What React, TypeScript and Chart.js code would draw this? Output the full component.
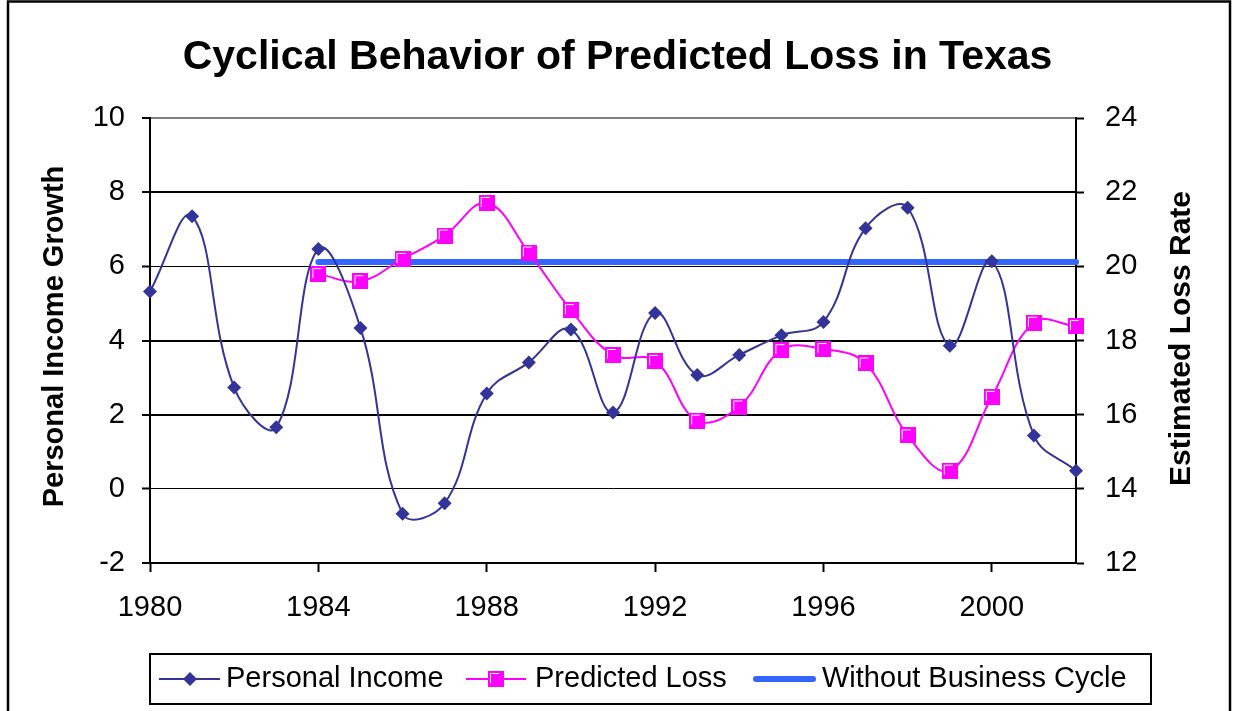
import React, { useEffect, useRef } from "react";
import { Chart, registerables } from "chart.js";

Chart.register(...registerables);

const chartTitle = "Cyclical Behavior of Predicted Loss in Texas";
const leftAxisTitle = "Personal Income Growth";
const rightAxisTitle = "Estimated Loss Rate";

const incomeLabel = "Personal Income";
const lossLabel = "Predicted Loss";
const baselineLabel = "Without Business Cycle";

const incomeYears = [1980, 1981, 1982, 1983, 1984, 1985, 1986, 1987, 1988, 1989, 1990, 1991, 1992, 1993, 1994, 1995, 1996, 1997, 1998, 1999, 2000, 2001, 2002];
const personalIncome = [5.32, 7.35, 2.73, 1.66, 6.47, 4.34, -0.67, -0.39, 2.57, 3.41, 4.3, 2.06, 4.74, 3.07, 3.61, 4.14, 4.5, 7.03, 7.58, 3.86, 6.14, 1.44, 0.49];

const lossYears = [1984, 1985, 1986, 1987, 1988, 1989, 1990, 1991, 1992, 1993, 1994, 1995, 1996, 1997, 1998, 1999, 2000, 2001, 2002];
const predictedLoss = [19.79, 19.6, 20.2, 20.83, 21.71, 20.37, 18.82, 17.61, 17.45, 15.84, 16.22, 17.74, 17.77, 17.38, 15.44, 14.49, 16.48, 18.48, 18.39];

const baselineYears = [1984, 2002];
const withoutCycle = [20.12, 20.12];

const xTickYears = [1980, 1984, 1988, 1992, 1996, 2000];
const xRange = [1980, 2002];
const leftRange = [-2, 10];
const rightRange = [12, 24];
const yStep = 2;

const FONT = "'Liberation Sans', Arial, sans-serif";
const NAVY = "#333399";
const MAGENTA = "#FF00FF";
const BLUE = "#3366FF";

function makeSquareMarker(): HTMLCanvasElement {
  const c = document.createElement("canvas");
  c.width = 16;
  c.height = 16;
  const g = c.getContext("2d")!;
  g.fillStyle = MAGENTA;
  g.fillRect(0, 0, 16, 16);
  g.strokeStyle = "#FFFFFF";
  g.lineWidth = 1;
  g.beginPath();
  g.moveTo(2.5, 12);
  g.lineTo(2.5, 2.5);
  g.lineTo(11, 2.5);
  g.stroke();
  return c;
}

export default function App() {
  const canvasRef = useRef<HTMLCanvasElement | null>(null);

  useEffect(() => {
    if (!canvasRef.current) return;
    const square = makeSquareMarker();

    const framePlugin = {
      id: "frame",
      beforeDraw(chart: any) {
        const ctx = chart.ctx;
        ctx.save();
        ctx.fillStyle = "#FFFFFF";
        ctx.fillRect(0, 0, chart.width, chart.height);
        ctx.strokeStyle = "#000000";
        ctx.lineWidth = 2.5;
        ctx.strokeRect(8, 1.5, 1222, 730);
        ctx.restore();
      },
    };

    const extrasPlugin = {
      id: "extras",
      afterDraw(chart: any) {
        const ctx = chart.ctx;
        const area = chart.chartArea;
        const midY = (area.top + area.bottom) / 2;
        ctx.save();
        ctx.fillStyle = "#000000";
        ctx.textAlign = "center";
        ctx.textBaseline = "middle";
        ctx.font = `bold 29px ${FONT}`;
        ctx.save();
        ctx.translate(55, midY - 4);
        ctx.rotate(-Math.PI / 2);
        ctx.fillText(leftAxisTitle, 0, 0);
        ctx.restore();
        ctx.font = `bold 30px ${FONT}`;
        ctx.save();
        ctx.translate(1182, midY - 2);
        ctx.rotate(-Math.PI / 2);
        ctx.fillText(rightAxisTitle, 0, 0);
        ctx.restore();

        // legend
        const ly = 679;
        ctx.strokeStyle = "#000000";
        ctx.lineWidth = 2;
        ctx.strokeRect(150, 654, 1001, 50);
        ctx.font = `29px ${FONT}`;
        ctx.textAlign = "left";
        ctx.textBaseline = "middle";

        ctx.strokeStyle = NAVY;
        ctx.lineWidth = 2;
        ctx.beginPath();
        ctx.moveTo(159, ly);
        ctx.lineTo(220, ly);
        ctx.stroke();
        ctx.fillStyle = NAVY;
        ctx.beginPath();
        ctx.moveTo(190, ly - 7);
        ctx.lineTo(197, ly);
        ctx.lineTo(190, ly + 7);
        ctx.lineTo(183, ly);
        ctx.closePath();
        ctx.fill();
        ctx.fillStyle = "#000000";
        ctx.fillText(incomeLabel, 226, ly);

        ctx.strokeStyle = MAGENTA;
        ctx.beginPath();
        ctx.moveTo(466, ly);
        ctx.lineTo(526, ly);
        ctx.stroke();
        ctx.drawImage(square, 488, ly - 8, 16, 16);
        ctx.fillStyle = "#000000";
        ctx.fillText(lossLabel, 535, ly);

        ctx.strokeStyle = BLUE;
        ctx.lineWidth = 6;
        ctx.lineCap = "round";
        ctx.beginPath();
        ctx.moveTo(756, ly);
        ctx.lineTo(813, ly);
        ctx.stroke();
        ctx.fillStyle = "#000000";
        ctx.fillText(baselineLabel, 822, ly);
        ctx.restore();
      },
    };

    const tickFont = { family: FONT, size: 29 };

    const chart = new Chart(canvasRef.current, {
      type: "line",
      data: {
        datasets: [
          {
            label: baselineLabel,
            data: baselineYears.map((x, i) => ({ x, y: withoutCycle[i] })),
            yAxisID: "y1",
            borderColor: BLUE,
            borderWidth: 6,
            borderCapStyle: "round",
            pointRadius: 0,
            tension: 0,
            clip: false,
            order: 3,
          },
          {
            label: lossLabel,
            data: lossYears.map((x, i) => ({ x, y: predictedLoss[i] })),
            yAxisID: "y1",
            borderColor: MAGENTA,
            borderWidth: 2,
            pointStyle: square,
            pointRadius: 8,
            tension: 0.4,
            clip: false,
            order: 2,
          },
          {
            label: incomeLabel,
            data: incomeYears.map((x, i) => ({ x, y: personalIncome[i] })),
            yAxisID: "y",
            borderColor: NAVY,
            backgroundColor: NAVY,
            borderWidth: 2,
            pointStyle: "rectRot",
            pointRadius: 7,
            pointBorderWidth: 0,
            tension: 0.4,
            clip: false,
            order: 1,
          },
        ],
      },
      options: {
        animation: false,
        responsive: true,
        maintainAspectRatio: false,
        events: [],
        layout: { padding: { top: 0, left: 0, right: 0, bottom: 78 } },
        plugins: {
          legend: { display: false },
          tooltip: { enabled: false },
          title: {
            display: true,
            text: chartTitle,
            color: "#000000",
            font: { family: FONT, size: 41, weight: "bold" },
            padding: { top: 33, bottom: 35.8 },
          },
        },
        scales: {
          x: {
            type: "linear",
            min: xRange[0],
            max: xRange[1],
            afterBuildTicks: (scale: any) => {
              scale.ticks = xTickYears.map((v) => ({ value: v }));
            },
            afterFit: (scale: any) => {
              scale.height = 70;
            },
            ticks: {
              color: "#000000",
              font: tickFont,
              padding: 19,
              autoSkip: false,
              maxRotation: 0,
              callback: (v: any) => String(v),
            },
            grid: {
              drawOnChartArea: false,
              tickLength: 9,
              tickColor: "#000000",
              tickWidth: 2,
            },
            border: { display: true, color: "#000000", width: 2 },
          },
          y: {
            type: "linear",
            position: "left",
            min: leftRange[0],
            max: leftRange[1],
            afterFit: (scale: any) => {
              scale.width = 150;
            },
            ticks: {
              stepSize: yStep,
              color: "#000000",
              font: tickFont,
              padding: 17,
            },
            grid: {
              color: (c: any) => (c.tick && c.tick.value === leftRange[1] ? "#808080" : "#000000"),
              lineWidth: (c: any) => (c.tick && (c.tick.value === 6 || c.tick.value === 0) ? 1 : 2),
              tickLength: 8,
              tickColor: "#000000",
              tickWidth: 2,
            },
            border: { display: true, color: "#000000", width: 2 },
          },
          y1: {
            type: "linear",
            position: "right",
            min: rightRange[0],
            max: rightRange[1],
            afterFit: (scale: any) => {
              scale.width = 159;
            },
            ticks: {
              stepSize: yStep,
              color: "#000000",
              font: tickFont,
              padding: 21,
            },
            grid: {
              drawOnChartArea: false,
              tickLength: 8,
              tickColor: "#000000",
              tickWidth: 2,
            },
            border: { display: true, color: "#000000", width: 2 },
          },
        },
      },
      plugins: [framePlugin, extrasPlugin],
    } as any);

    return () => {
      chart.destroy();
    };
  }, []);

  return (
    <div style={{ position: "absolute", left: 0, top: 0, width: 1235, height: 711, background: "#FFFFFF" }}>
      <canvas ref={canvasRef} />
    </div>
  );
}
